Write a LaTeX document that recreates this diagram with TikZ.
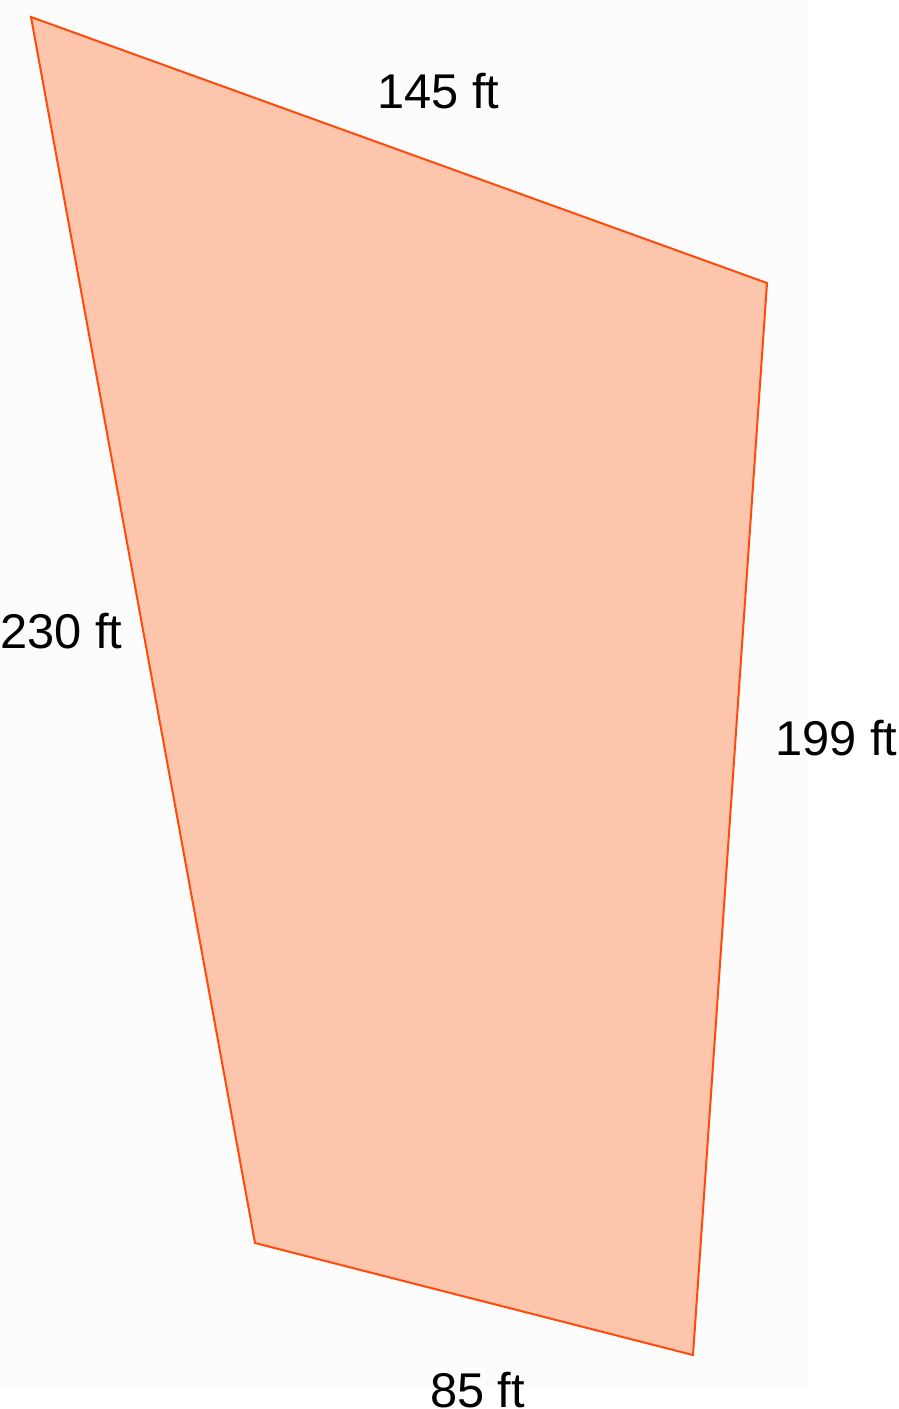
\documentclass[tikz,border=0pt]{standalone}
\usepackage{fontspec}
\setmainfont{Liberation Sans}
\definecolor{bgpage}{HTML}{FCFCFC}
\definecolor{lotfill}{HTML}{FDC5AB}
\definecolor{lotline}{HTML}{FF4A0A}
\begin{document}
\begin{tikzpicture}[x=1pt,y=-1pt,
  lot/.style={draw=lotline,fill=lotfill,line width=2pt,line join=miter},
  dimlabel/.style={font=\fontsize{48.8}{58}\selectfont,inner sep=0pt,anchor=base west,text=black}]
\useasboundingbox (0,0) rectangle (898,1409);
\fill[white] (0,0) rectangle (898,1409);
\fill[bgpage] (0,0) rectangle (808,1390);
\coordinate (A) at (31,17);
\coordinate (B) at (767,283);
\coordinate (C) at (693,1355);
\coordinate (D) at (255,1243);
\draw[lot] (A) -- (B) -- (C) -- (D) -- cycle;
\node[dimlabel] (top) at (377,108) {145 ft};
\node[dimlabel] (left) at (0,648) {230 ft};
\node[dimlabel] (right) at (775,755) {199 ft};
\node[dimlabel] (bottom) at (430,1407) {85 ft};
\end{tikzpicture}
\end{document}
